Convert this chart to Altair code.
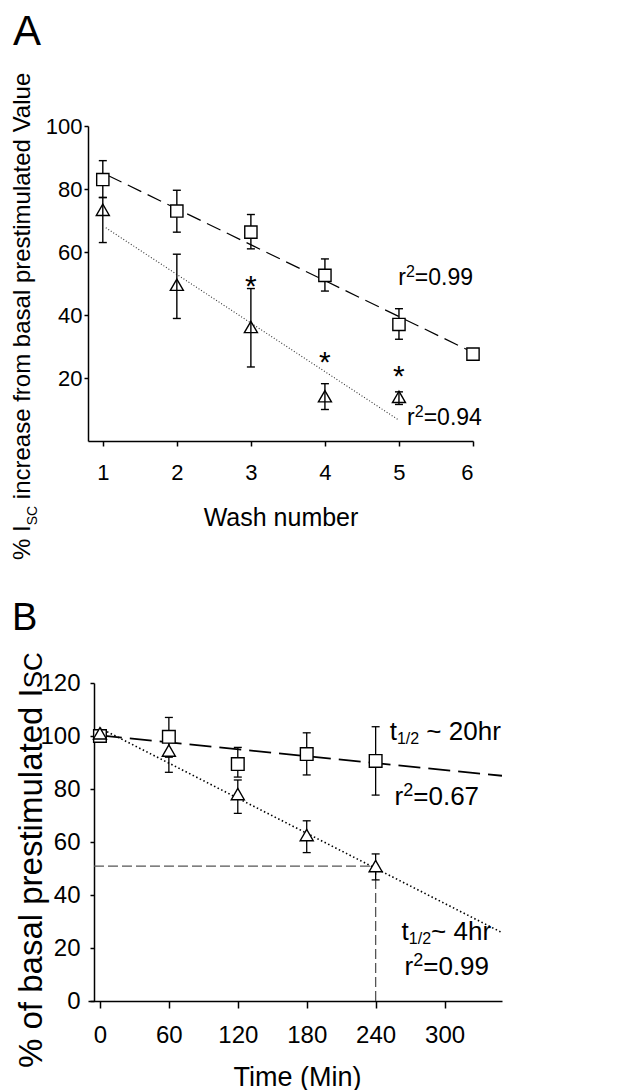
import altair as alt
import pandas as pd

F = "Liberation Sans"
NB = "\u00a0"

# ---------------- Panel A data ----------------
washA_sq = [1, 2, 3, 4, 5, 6]
meanA_sq = [83.0, 73.0, 66.3, 52.6, 37.0, 27.6]
errA_sq_wash = [1, 2, 3, 4, 5]
loA_sq = [77.3, 66.3, 61.0, 47.6, 32.3]
hiA_sq = [89.0, 79.6, 71.9, 57.8, 42.0]

washA_tri = [1, 2, 3, 4, 5]
meanA_tri = [73.4, 49.6, 36.2, 14.2, 14.0]
loA_tri = [63.0, 38.9, 23.5, 10.0, 11.6]
hiA_tri = [77.3, 59.3, 48.4, 18.2, 15.6]

fitA_sq_x = [1.07, 6.0]
fitA_sq_y = [84.3, 28.1]
fitA_tri_x = [1.04, 5.0]
fitA_tri_y = [67.7, 6.6]

starA_x = [3, 4, 5]
starA_y = [51.5, 27.2, 22.7]

r2A_val = ["=0.99", "=0.94"]
r2A_x = [4.99, 5.11]
r2A_y = [49.5, 5.1]

# ---------------- Panel B data ----------------
timeB = [0, 60, 120, 180, 240]
meanB_sq = [100.0, 99.7, 89.4, 93.2, 90.6]
meanB_tri = [101.0, 94.5, 78.1, 62.6, 50.9]
errB_t = [60, 120, 180, 240]
loB_sq = [92.0, 84.5, 85.3, 77.7]
hiB_sq = [107.0, 95.7, 101.2, 103.5]
loB_tri = [86.3, 70.8, 56.0, 45.7]
hiB_tri = [98.5, 83.4, 68.0, 55.5]

fitB_sq_x = [0, 350]
fitB_sq_y = [100.2, 85.0]
fitB_tri_x = [0, 350]
fitB_tri_y = [103.0, 25.8]

guideH_x = [-5.2, 240]
guideH_y = [50.9, 50.9]
guideV_x = [240, 240]
guideV_y = [0, 50.9]

r2B_val = ["=0.67", "=0.99"]
r2B_x = [256.5, 265.2]
r2B_y = [74.0, 9.8]

thalf_x = [252.2, 262.6]
thalf_y = [98.5, 23.0]
thalf_tail = ["~" + NB + "20hr", "~" + NB + "4hr"]
thalf_gap = [1, 0]          # a space before "~" in the first label only

# Arial / Liberation Sans advance widths (per 1000 em)
ARIAL = {" ": 278, NB: 278, "%": 889, "I": 278, "S": 667, "C": 722, "i": 222, "n": 556,
         "c": 500, "r": 333, "e": 556, "a": 556, "s": 500, "f": 278, "o": 556,
         "m": 833, "b": 556, "l": 222, "p": 556, "t": 278, "u": 556, "d": 556,
         "V": 667, "1": 556, "/": 278, "2": 556, "~": 584, "0": 556, "h": 556,
         "4": 556}


def tw(s, size):
    return sum(ARIAL[c] for c in s) / 1000.0 * size


def label(text, x, y, size, angle=0, align="left", baseline="alphabetic"):
    return alt.Chart(pd.DataFrame({"t": [text]})).mark_text(
        font=F, fontSize=size, angle=angle, align=align, baseline=baseline, color="black"
    ).encode(text="t:N", x=alt.value(x), y=alt.value(y))


def anchor(x, y):
    return alt.Chart(pd.DataFrame({"k": [0]})).mark_rule(opacity=0).encode(
        x=alt.value(x), x2=alt.value(x + 1), y=alt.value(y), y2=alt.value(y + 1))


def dtext(df, field, xenc, yenc, size, dx=0, dy=0):
    return alt.Chart(df).mark_text(font=F, fontSize=size, color="black", align="left",
                                   baseline="alphabetic", dx=dx, dy=dy).encode(
        x=xenc, y=yenc, text=f"{field}:N")


def r2_layers(df, xenc, yenc, size, supsize):
    return [
        dtext(df, "r", xenc, yenc, size),
        dtext(df, "two", xenc, yenc, supsize, dx=tw("r", size), dy=-0.36 * size),
        dtext(df, "v", xenc, yenc, size, dx=tw("r", size) + tw("2", supsize)),
    ]


# ---------------- Panel A ----------------
WA, HA = 385, 315
axXA = alt.Axis(values=[1, 2, 3, 4, 5, 6], format="d", title="Wash number", tickSize=5,
                labelFontSize=22, labelPadding=16, titleFontSize=25, titleY=84,
                titleBaseline="alphabetic")
axYA = alt.Axis(values=[20, 40, 60, 80, 100], title=None, tickSize=4, labelFontSize=22,
                labelPadding=2)


def xA(f):
    return alt.X(f"{f}:Q", scale=alt.Scale(domain=[0.8, 6], nice=False, zero=False), axis=axXA)


def yA(f):
    return alt.Y(f"{f}:Q", scale=alt.Scale(domain=[0, 100], nice=False), axis=axYA)


dfA_sq = pd.DataFrame({"x": washA_sq, "y": meanA_sq})
dfA_sq_err = pd.DataFrame({"x": errA_sq_wash, "lo": loA_sq, "hi": hiA_sq})
dfA_tri = pd.DataFrame({"x": washA_tri, "y": meanA_tri, "lo": loA_tri, "hi": hiA_tri})
dfA_fit_sq = pd.DataFrame({"x": fitA_sq_x, "y": fitA_sq_y})
dfA_fit_tri = pd.DataFrame({"x": fitA_tri_x, "y": fitA_tri_y})
dfA_star = pd.DataFrame({"x": starA_x, "y": starA_y, "t": ["*"] * len(starA_x)})
dfA_r2 = pd.DataFrame({"x": r2A_x, "y": r2A_y, "r": ["r"] * 2, "two": ["2"] * 2, "v": r2A_val})

layersA = [
    anchor(-88, -126),
    alt.Chart(dfA_fit_sq).mark_line(color="black", strokeWidth=1.2, strokeDash=[15, 7]).encode(x=xA("x"), y=yA("y")),
    alt.Chart(dfA_fit_tri).mark_line(color="#333333", strokeWidth=1.1, strokeDash=[1, 2]).encode(x=xA("x"), y=yA("y")),
]
for dfe in (dfA_sq_err, dfA_tri):
    layersA += [
        alt.Chart(dfe).mark_rule(color="black", strokeWidth=1.4).encode(x=xA("x"), y=yA("lo"), y2="hi:Q"),
        alt.Chart(dfe).mark_tick(orient="horizontal", size=8, thickness=1.4, color="black", opacity=1).encode(x=xA("x"), y=yA("lo")),
        alt.Chart(dfe).mark_tick(orient="horizontal", size=8, thickness=1.4, color="black", opacity=1).encode(x=xA("x"), y=yA("hi")),
    ]
layersA += [
    alt.Chart(dfA_sq).mark_point(shape="square", size=150, filled=True, fill="white", stroke="black",
                                 strokeWidth=1.4, opacity=1).encode(x=xA("x"), y=yA("y")),
    alt.Chart(dfA_tri).mark_point(shape="triangle-up", size=170, filled=False, stroke="black",
                                  strokeWidth=1.4, opacity=1).encode(x=xA("x"), y=yA("y")),
    alt.Chart(dfA_star).mark_text(font=F, fontSize=30, color="black", align="center",
                                  baseline="alphabetic", dy=17).encode(x=xA("x"), y=yA("y"), text="t:N"),
]
layersA += r2_layers(dfA_r2, xA("x"), yA("y"), 23, 16)
layersA += [label("A", -75, -81, 42)]
# rotated y title with subscript
tA_x, tA_y = -58, 434
p1, p2, p3 = "%" + NB + "I", "SC", "increase from basal prestimulated Value"
layersA += [
    label(p1, tA_x, tA_y, 24, angle=270),
    label(p2, tA_x + 7, tA_y - tw(p1, 24), 14, angle=270),
    label(p3, tA_x, tA_y - tw(p1, 24) - tw(p2, 14) - tw(" ", 24), 24, angle=270),
]
panelA = alt.layer(*layersA).properties(width=WA, height=HA)

# ---------------- Panel B ----------------
WB, HB = 414, 318
axXB = alt.Axis(values=[0, 60, 120, 180, 240, 300], format="d", title="Time (Min)", tickSize=7,
                labelFontSize=24, labelPadding=15, titleFontSize=27, titleY=84,
                titleBaseline="alphabetic", titleX=209)
axYB = alt.Axis(values=[0, 20, 40, 60, 80, 100, 120], title=None, tickSize=4, labelFontSize=24,
                labelPadding=10, offset=-6)


def xB(f):
    return alt.X(f"{f}:Q", scale=alt.Scale(domain=[-10.4, 350], nice=False, zero=False), axis=axXB)


def yB(f):
    return alt.Y(f"{f}:Q", scale=alt.Scale(domain=[0, 120], nice=False), axis=axYB)


dfB_sq = pd.DataFrame({"x": timeB, "y": meanB_sq})
dfB_tri = pd.DataFrame({"x": timeB, "y": meanB_tri})
dfB_sq_err = pd.DataFrame({"x": errB_t, "lo": loB_sq, "hi": hiB_sq})
dfB_tri_err = pd.DataFrame({"x": errB_t, "lo": loB_tri, "hi": hiB_tri})
dfB_fit_sq = pd.DataFrame({"x": fitB_sq_x, "y": fitB_sq_y})
dfB_fit_tri = pd.DataFrame({"x": fitB_tri_x, "y": fitB_tri_y})
dfB_gh = pd.DataFrame({"x": guideH_x, "y": guideH_y})
dfB_gv = pd.DataFrame({"x": guideV_x, "y": guideV_y})
dfB_r2 = pd.DataFrame({"x": r2B_x, "y": r2B_y, "r": ["r"] * 2, "two": ["2"] * 2, "v": r2B_val})
dfB_th = pd.DataFrame({"x": thalf_x, "y": thalf_y, "t1": ["t"] * 2, "t2": ["1/2"] * 2, "t3": thalf_tail})

layersB = [
    alt.Chart(dfB_gh).mark_line(color="#555555", strokeWidth=1.3, strokeDash=[10, 4]).encode(x=xB("x"), y=yB("y")),
    alt.Chart(dfB_gv).mark_line(color="#555555", strokeWidth=1.3, strokeDash=[10, 4]).encode(x=xB("x"), y=yB("y")),
    alt.Chart(dfB_fit_sq).mark_line(color="black", strokeWidth=1.8, strokeDash=[22, 8]).encode(x=xB("x"), y=yB("y")),
    alt.Chart(dfB_fit_tri).mark_line(color="black", strokeWidth=1.6, strokeDash=[1.5, 2.5]).encode(x=xB("x"), y=yB("y")),
]
for dfe in (dfB_sq_err, dfB_tri_err):
    layersB += [
        alt.Chart(dfe).mark_rule(color="black", strokeWidth=1.3).encode(x=xB("x"), y=yB("lo"), y2="hi:Q"),
        alt.Chart(dfe).mark_tick(orient="horizontal", size=8, thickness=1.3, color="black", opacity=1).encode(x=xB("x"), y=yB("lo")),
        alt.Chart(dfe).mark_tick(orient="horizontal", size=8, thickness=1.3, color="black", opacity=1).encode(x=xB("x"), y=yB("hi")),
    ]
layersB += [
    alt.Chart(dfB_sq).mark_point(shape="square", size=160, filled=True, fill="white", stroke="black",
                                 strokeWidth=1.4, opacity=1).encode(x=xB("x"), y=yB("y")),
    alt.Chart(dfB_tri).mark_point(shape="triangle-up", size=170, filled=True, fill="white", stroke="black",
                                  strokeWidth=1.4, opacity=1).encode(x=xB("x"), y=yB("y")),
]
layersB += r2_layers(dfB_r2, xB("x"), yB("y"), 26, 18)
base_dx = tw("t", 26) + tw("1/2", 16)
for i in range(len(thalf_x)):
    sub = dfB_th.iloc[[i]]
    layersB += [
        dtext(sub, "t1", xB("x"), yB("y"), 26),
        dtext(sub, "t2", xB("x"), yB("y"), 16, dx=tw("t", 26), dy=4),
        dtext(sub, "t3", xB("x"), yB("y"), 26, dx=base_dx + thalf_gap[i] * tw(" ", 26)),
    ]
layersB += [label("B", -76, -53, 38)]
tB_x, tB_y = -46, 385
q1, q2 = "%" + NB + "of" + NB + "basal" + NB + "prestimulated" + NB + "I", "SC"
layersB += [
    label(q1, tB_x, tB_y, 33, angle=270),
    label(q2, tB_x, tB_y - tw(q1, 33), 26, angle=270),
]
panelB = alt.layer(*layersB).properties(width=WB, height=HB)

chart = alt.vconcat(panelA, panelB, spacing=242, bounds="flush").properties(padding=0).configure_view(
    stroke=None
).configure_axis(
    grid=False, domainColor="black", domainWidth=1.5, tickColor="black", tickWidth=1.5,
    labelColor="black", labelFont=F, titleFont=F, titleColor="black", titleFontWeight="normal"
)

chart.save("out.html", embed_options={"renderer": "svg", "actions": False})
